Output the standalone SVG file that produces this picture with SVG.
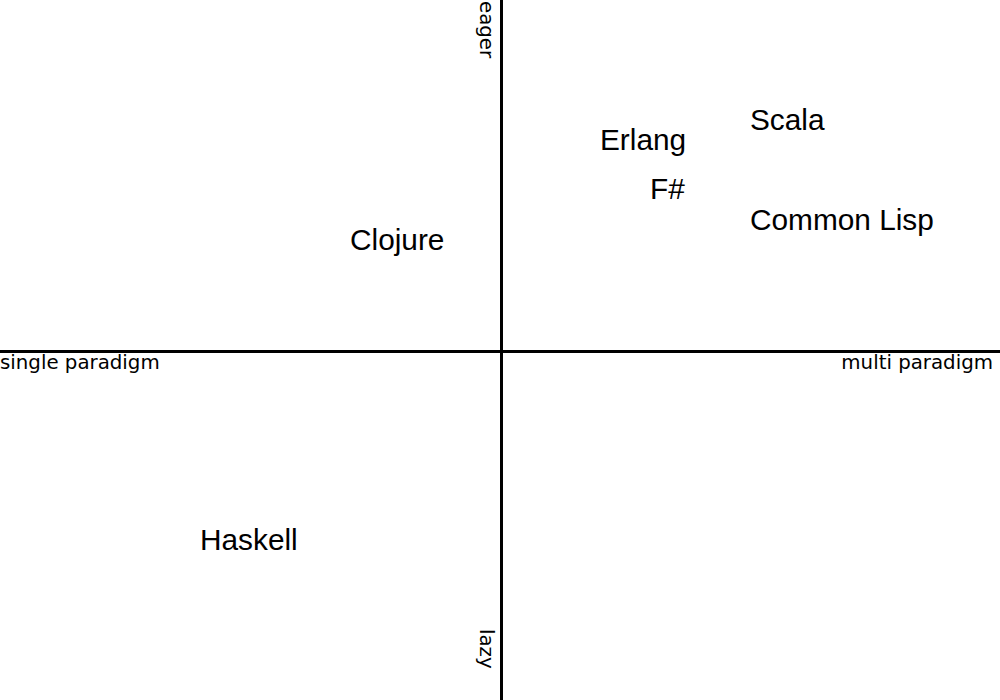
<svg xmlns="http://www.w3.org/2000/svg" width="1000" height="700" viewBox="0 0 1000 700">
<style>
.axis{stroke:#000;stroke-width:3;fill:none}
.ax{font-family:"DejaVu Sans",sans-serif;font-size:19.8px;fill:#000}
.lang{font-family:"Liberation Sans",Arial,sans-serif;font-size:29.8px;fill:#000}
</style>
<rect width="1000" height="700" fill="#fff"/>
<g id="axes">
<line class="axis" x1="501.5" y1="0" x2="501.5" y2="700"/>
<line class="axis" x1="0" y1="351.5" x2="1000" y2="351.5"/>
</g>
<g id="axis-labels">
<text class="ax" x="0" y="369">single paradigm</text>
<text class="ax" x="993" y="369" text-anchor="end">multi paradigm</text>
<text class="ax" transform="translate(480,1) rotate(90)">eager</text>
<text class="ax" transform="translate(480,629) rotate(90)">lazy</text>
</g>
<g id="scala"><text class="lang" x="750" y="130">Scala</text></g>
<g id="erlang"><text class="lang" x="600" y="150">Erlang</text></g>
<g id="fsharp"><text class="lang" x="650" y="199">F#</text></g>
<g id="common-lisp"><text class="lang" x="750" y="230">Common Lisp</text></g>
<g id="clojure"><text class="lang" x="350" y="250">Clojure</text></g>
<g id="haskell"><text class="lang" x="200" y="550">Haskell</text></g>
</svg>
